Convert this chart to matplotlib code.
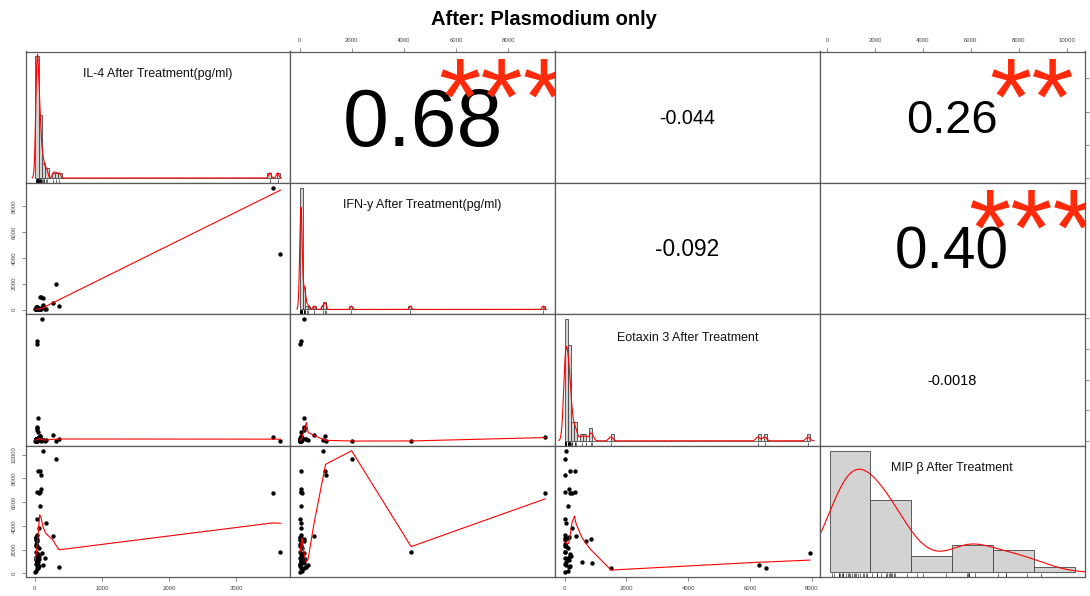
import numpy as np
import matplotlib

matplotlib.use("Agg")

import matplotlib.pyplot as plt
from matplotlib.font_manager import FontProperties
from matplotlib.textpath import TextPath
from matplotlib.transforms import ScaledTranslation
from matplotlib.ticker import MultipleLocator

FONT = "Liberation Sans"
plt.rcParams["font.family"] = [FONT, "DejaVu Sans"]

# ---- data ----
TITLE = "After: Plasmodium only"
LABELS = ["IL-4 After Treatment(pg/ml)", "IFN-y After Treatment(pg/ml)",
          "Eotaxin 3 After Treatment", "MIP β After Treatment"]

il4 = [124, 313, 47, 85, 90, 94, 40, 60, 75, 3540, 80, 40, 175, 65, 273, 40,
       20, 25, 35, 30, 20, 25, 30, 20, 65, 15, 48, 115, 3657, 55, 363, 30,
       40, 124, 55, 30, 20, 25, 160, 70, 15, 20, 10, 30, 60, 60, 25, 20]
ifn = [880, 1990, 40, 965, 990, 60, 30, 80, 50, 9420, 40, 20, 30, 60, 540, 30,
       10, 50, 170, 160, 20, 10, 40, 25, 70, 15, 30, 167, 4275, 150, 250, 20,
       30, 322, 40, 180, 10, 30, 20, 50, 20, 40, 10, 30, 80, 20, 190, 70]
eotaxin = [55, 10, 170, 347, 20, 130, 20, 160, 320, 227, 105, 5, 50, 240, 366, 12,
           115, 20, 680, 853, 20, 25, 30, 20, 110, 130, 180, 7935, 5, 1500, 150, 6300,
           6520, 40, 550, 875, 20, 140, 20, 110, 20, 125, 10, 30, 210, 160, 120, 105]
mip = [10340, 9660, 8640, 8640, 8250, 7120, 6850, 6750, 6820, 6800, 5680, 4580,
       4260, 3810, 3160, 3220, 3000, 2970, 2770, 2910, 2800, 2500, 2300, 2300,
       2100, 3050, 1650, 1690, 1800, 480, 500, 680, 450, 680, 960, 910, 1840,
       1400, 1300, 1250, 800, 1100, 100, 1000, 1500, 600, 1200, 200]

# upper panels: (row, col), printed r, significance stars
cor_pairs = [(0, 1), (0, 2), (0, 3), (1, 2), (1, 3), (2, 3)]
cor_text = ["0.68", "-0.044", "0.26", "-0.092", "0.40", "-0.0018"]
cor_value = [0.68, -0.044, 0.26, -0.092, 0.40, -0.0018]
cor_stars = ["***", "", "**", "", "***", ""]

tick_step = [1000, 2000, 2000, 2000]

# ---- layout (pixels) ----
W, H, DPI = 1090, 596, 100
LEFT, TOP = 25.5, 51.5
PW, PH = 264.75, 131.4
EDGE = "#5a5a5a"
STAR_RED = "#ff2a0a"

fig = plt.figure(figsize=(W / DPI, H / DPI), dpi=DPI)
fig.patch.set_facecolor("white")

data = [np.array(v, dtype=float) for v in (il4, ifn, eotaxin, mip)]
nv = len(data)


def padded(v):
    lo, hi = v.min(), v.max()
    r = hi - lo
    return lo - 0.04 * r, hi + 0.04 * r


def ink_extents(s, weight="normal"):
    tp = TextPath((0, 0), s, size=1, prop=FontProperties(family=FONT, weight=weight))
    return tp.get_extents()


def ink_text(target, transform, x, y, s, em_px, weight="normal", **kw):
    """Put text so the ink of s is centred on (x, y)."""
    e = ink_extents(s, weight)
    dx = -(e.x0 + e.x1) / 2 * em_px
    dy = -(e.y0 + e.y1) / 2 * em_px
    tr = transform + ScaledTranslation(dx / DPI, dy / DPI, fig.dpi_scale_trans)
    return target.text(x, y, s, fontsize=em_px * 72 / DPI, ha="left", va="baseline",
                       transform=tr, family=FONT, weight=weight, **kw)


def r_pretty_breaks(v):
    # hist(breaks = "FD") in R: nclass.FD then pretty()
    n = len(v)
    q1, q3 = np.percentile(v, [25, 75])
    h = 2 * (q3 - q1) * n ** (-1 / 3)
    lo, hi = v.min(), v.max()
    k = int(np.ceil((hi - lo) / h)) if h > 0 else 1
    cell = (hi - lo) / k
    base = 10 ** np.floor(np.log10(cell))
    unit = base
    if 2 * base - cell < 1.5 * (cell - unit):
        unit = 2 * base
        if 5 * base - cell < 2.75 * (cell - unit):
            unit = 5 * base
            if 10 * base - cell < 1.5 * (cell - unit):
                unit = 10 * base
    ns = np.floor(lo / unit + 1e-7)
    nu = np.ceil(hi / unit - 1e-7)
    return np.arange(ns, nu + 1) * unit


def density(v):
    n = len(v)
    q1, q3 = np.percentile(v, [25, 75])
    lo = min(v.std(ddof=1), (q3 - q1) / 1.34)
    bw = 0.9 * lo * n ** (-0.2)
    grid = np.linspace(v.min() - 3 * bw, v.max() + 3 * bw, 512)
    d = np.exp(-0.5 * ((grid[:, None] - v[None, :]) / bw) ** 2).sum(1)
    return grid, d / (n * bw * np.sqrt(2 * np.pi))


def lowess(x, y, f=2 / 3, nsteps=3):
    o = np.argsort(x, kind="stable")
    x, y = x[o], y[o]
    n = len(x)
    ns = max(min(int(f * n + 1e-7), n), 2)
    xrange_ = x[-1] - x[0]
    delta = 0.01 * xrange_
    rw = np.ones(n)
    ys = np.zeros(n)

    def lowest(xs, nleft, nright, userw):
        w = np.zeros(n)
        h = max(xs - x[nleft], x[nright] - xs)
        h9, h1 = 0.999 * h, 0.001 * h
        a = 0.0
        j = nleft
        while j < n:
            r = abs(x[j] - xs)
            if r <= h9:
                w[j] = 1.0 if r <= h1 else (1 - (r / h) ** 3) ** 3
                if userw:
                    w[j] *= rw[j]
                a += w[j]
            elif x[j] > xs:
                break
            j += 1
        nrt = j - 1
        if a <= 0:
            return None
        sl = slice(nleft, nrt + 1)
        w[sl] /= a
        if h > 0:
            a = np.sum(w[sl] * x[sl])
            b = xs - a
            c = np.sum(w[sl] * (x[sl] - a) ** 2)
            if np.sqrt(c) > 0.001 * xrange_:
                b /= c
                w[sl] *= b * (x[sl] - a) + 1
        return np.sum(w[sl] * y[sl])

    for it in range(nsteps + 1):
        nleft, nright = 0, ns - 1
        last = -1
        i = 0
        while True:
            while nright < n - 1:
                if x[i] - x[nleft] > x[nright + 1] - x[i]:
                    nleft += 1
                    nright += 1
                else:
                    break
            v = lowest(x[i], nleft, nright, it > 0)
            ys[i] = y[i] if v is None else v
            if last < i - 1:
                denom = x[i] - x[last]
                for j in range(last + 1, i):
                    al = (x[j] - x[last]) / denom
                    ys[j] = al * ys[i] + (1 - al) * ys[last]
            last = i
            cut = x[last] + delta
            i = last + 1
            while i < n:
                if x[i] > cut:
                    break
                if x[i] == x[last]:
                    ys[i] = ys[last]
                    last = i
                i += 1
            i = max(last + 1, i - 1)
            if last >= n - 1:
                break
        res = y - ys
        if it >= nsteps:
            break
        sc = np.mean(np.abs(res))
        cmad = 6 * np.median(np.abs(res))
        if cmad < 1e-7 * sc:
            break
        r = np.abs(res)
        rw = np.where(r <= 0.001 * cmad, 1.0,
                      np.where(r <= 0.999 * cmad, (1 - (r / cmad) ** 2) ** 2, 0.0))
    return x, ys


axes = [[None] * nv for _ in range(nv)]
for i in range(nv):
    for j in range(nv):
        ax = fig.add_axes([(LEFT + j * PW) / W, 1 - (TOP + (i + 1) * PH) / H, PW / W, PH / H])
        for sp in ax.spines.values():
            sp.set_color(EDGE)
            sp.set_linewidth(0.9)
        ax.tick_params(which="both", left=False, right=False, top=False, bottom=False,
                       labelleft=False, labelright=False, labeltop=False, labelbottom=False,
                       length=3.2, width=0.5, color=EDGE, labelcolor="#444444", labelsize=4.3)
        axes[i][j] = ax

# diagonal: histogram + density + rug
label_em = 147 / (ink_extents(LABELS[0]).width)
for k in range(nv):
    ax = axes[k][k]
    v = data[k]
    br = r_pretty_breaks(v)
    ax.hist(v, bins=br, density=True, color="#d3d3d3", edgecolor="#444444", linewidth=0.6)
    cnt, _ = np.histogram(v, bins=br, density=True)
    ytop = cnt.max()
    r = br[-1] - br[0]
    ax.set_xlim(br[0] - 0.04 * r, br[-1] + 0.04 * r)
    ax.set_ylim(-0.04 * ytop, 1.04 * ytop)
    gx, gy = density(v)
    ax.plot(gx, gy, color="red", lw=0.8)
    ax.vlines(v, -0.04 * ytop, -0.04 * ytop + 0.03 * 1.08 * ytop, color="black", lw=0.4)
    ink_text(ax, ax.transAxes, 0.5, 0.833, LABELS[k], label_em, color="#111111")

# lower: scatter + lowess
for i in range(nv):
    for j in range(i):
        ax = axes[i][j]
        x, y = data[j], data[i]
        ax.scatter(x, y, s=10, c="black", linewidths=0, zorder=3)
        lx, ly = lowess(x, y)
        ax.plot(lx, ly, color="red", lw=0.8, zorder=4)
        ax.set_xlim(padded(x))
        ax.set_ylim(padded(y))

# upper: correlation text and stars
for (i, j), txt, r, st in zip(cor_pairs, cor_text, cor_value, cor_stars):
    ax = axes[i][j]
    ax.set_xlim(padded(data[j]))
    ax.set_ylim(padded(data[i]))
    e = ink_extents(txt)
    em_base = 0.8 * PW / (e.x1 + e.x0)
    ink_text(ax, ax.transAxes, 0.5, 0.5, txt, em_base * (abs(r) + 0.3) / 1.3,
             color="black", clip_on=True)
    if st:
        ink_text(ax, ax.transAxes, 0.8, 0.8, st, em_base, color=STAR_RED, clip_on=True)

# outer axes, alternating sides as in pairs(); right-hand labels fall off the page
for j in range(nv):
    if j % 2 == 0:
        ax = axes[nv - 1][j]
        ax.tick_params(bottom=True, labelbottom=True, pad=3.5)
    else:
        ax = axes[0][j]
        ax.tick_params(top=True, labeltop=True, pad=3)
    ax.xaxis.set_major_locator(MultipleLocator(tick_step[j]))
for i in range(nv):
    if i % 2 == 0:
        ax = axes[i][nv - 1]
        ax.tick_params(right=True, labelright=False)
    else:
        ax = axes[i][0]
        ax.tick_params(left=True, labelleft=True, pad=3)
        for t in ax.get_yticklabels():
            t.set_rotation(90)
            t.set_va("center")
    ax.yaxis.set_major_locator(MultipleLocator(tick_step[i]))

# title
title_em = 226 / ink_extents(TITLE, "bold").width
ink_text(fig, fig.transFigure, 545 / W, 1 - 20 / H, TITLE, title_em, weight="bold", color="black")

fig.savefig("out.png", dpi=DPI, facecolor="white")
